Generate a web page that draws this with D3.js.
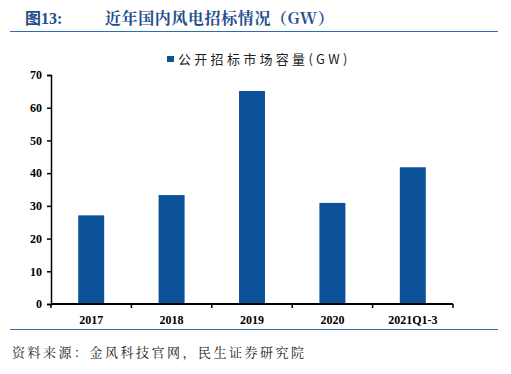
<!DOCTYPE html>
<html>
<head>
<meta charset="utf-8">
<script src="https://cdn.jsdelivr.net/npm/d3@7"></script>
<style>
  body { margin: 0; background: #fff; }
  svg { display: block; }
</style>
</head>
<body>
<div id="chart"></div>
<script>
const categories = ["2017", "2018", "2019", "2020", "2021Q1-3"];
const values = [27.1, 33.3, 65.1, 30.9, 41.8];
const yTicks = [0, 10, 20, 30, 40, 50, 60, 70];
const seriesName = "公开招标市场容量(GW)";

const width = 511, height = 374;
const svg = d3.select("#chart").append("svg")
  .attr("width", width)
  .attr("height", height);

const titleColor = "#1f4e8c";
const barColor = "#0b5299";
const serif = "'Liberation Serif', 'Times New Roman', serif";
const cjk = "'Noto Sans CJK SC', sans-serif";
const cjkSerif = "'Noto Serif CJK SC', " + cjk;

// Title
svg.append("text")
  .attr("x", 25).attr("y", 24)
  .attr("font-family", serif + ", " + cjk)
  .attr("font-weight", "bold")
  .attr("font-size", 16)
  .attr("fill", titleColor)
  .text("图13:");
svg.append("text")
  .attr("x", 105).attr("y", 24)
  .attr("font-family", cjkSerif)
  .attr("font-weight", "bold")
  .attr("font-size", 16)
  .attr("letter-spacing", 0.6)
  .attr("fill", titleColor)
  .text("近年国内风电招标情况（GW）");

svg.append("line")
  .attr("x1", 10).attr("x2", 498)
  .attr("y1", 31.5).attr("y2", 31.5)
  .attr("stroke", "#2e6bb0").attr("stroke-width", 1);

// Plot area
const x = d3.scaleBand().domain(categories).range([51, 453]);
const y = d3.scaleLinear().domain([0, 70]).range([304, 75]);

const g = svg.append("g");

g.selectAll("rect.bar")
  .data(values)
  .join("rect")
  .attr("class", "bar")
  .attr("x", (d, i) => x(categories[i]) + x.bandwidth() / 2 - 13)
  .attr("width", 26)
  .attr("y", d => y(d))
  .attr("height", d => y(0) - y(d))
  .attr("fill", barColor);

// Y axis
const yAxis = g.append("g")
  .attr("transform", "translate(51,0)")
  .call(d3.axisLeft(y).tickValues(yTicks).tickSize(4).tickPadding(5));
yAxis.select(".domain").attr("stroke", "#000").attr("stroke-width", 1.5);
yAxis.selectAll(".tick line").attr("stroke", "#000").attr("stroke-width", 1.5);
yAxis.selectAll(".tick text")
  .attr("font-family", serif)
  .attr("font-weight", "bold")
  .attr("font-size", 12)
  .attr("fill", "#000");

// X axis with ticks between bands
const xAxis = g.append("g").attr("transform", "translate(0,304)");
xAxis.append("line")
  .attr("x1", 51).attr("x2", 453)
  .attr("stroke", "#000").attr("stroke-width", 2);
const edges = categories.map(c => x(c)).concat([x.range()[1]]);
xAxis.selectAll("line.tk")
  .data(edges)
  .join("line")
  .attr("class", "tk")
  .attr("x1", d => d).attr("x2", d => d)
  .attr("y1", 0).attr("y2", 4)
  .attr("stroke", "#000").attr("stroke-width", 1.5);
xAxis.selectAll("text")
  .data(categories)
  .join("text")
  .attr("x", d => x(d) + x.bandwidth() / 2)
  .attr("y", 20)
  .attr("text-anchor", "middle")
  .attr("font-family", serif)
  .attr("font-weight", "bold")
  .attr("font-size", 12)
  .attr("fill", "#000")
  .text(d => d);

// Legend
svg.append("rect")
  .attr("x", 167).attr("y", 56)
  .attr("width", 7).attr("height", 6)
  .attr("fill", barColor);
svg.append("text")
  .attr("x", 178).attr("y", 64)
  .attr("font-family", cjk)
  .attr("font-size", 13)
  .attr("letter-spacing", 3.3)
  .attr("fill", "#222")
  .text(seriesName);

// Bottom rule and source
svg.append("line")
  .attr("x1", 10).attr("x2", 498)
  .attr("y1", 329.5).attr("y2", 329.5)
  .attr("stroke", "#2e6bb0").attr("stroke-width", 1);
svg.append("text")
  .attr("x", 12).attr("y", 357)
  .attr("font-family", cjkSerif)
  .attr("font-size", 13)
  .attr("letter-spacing", 2.5)
  .attr("fill", "#222")
  .text("资料来源：金风科技官网，民生证券研究院");
</script>
</body>
</html>
